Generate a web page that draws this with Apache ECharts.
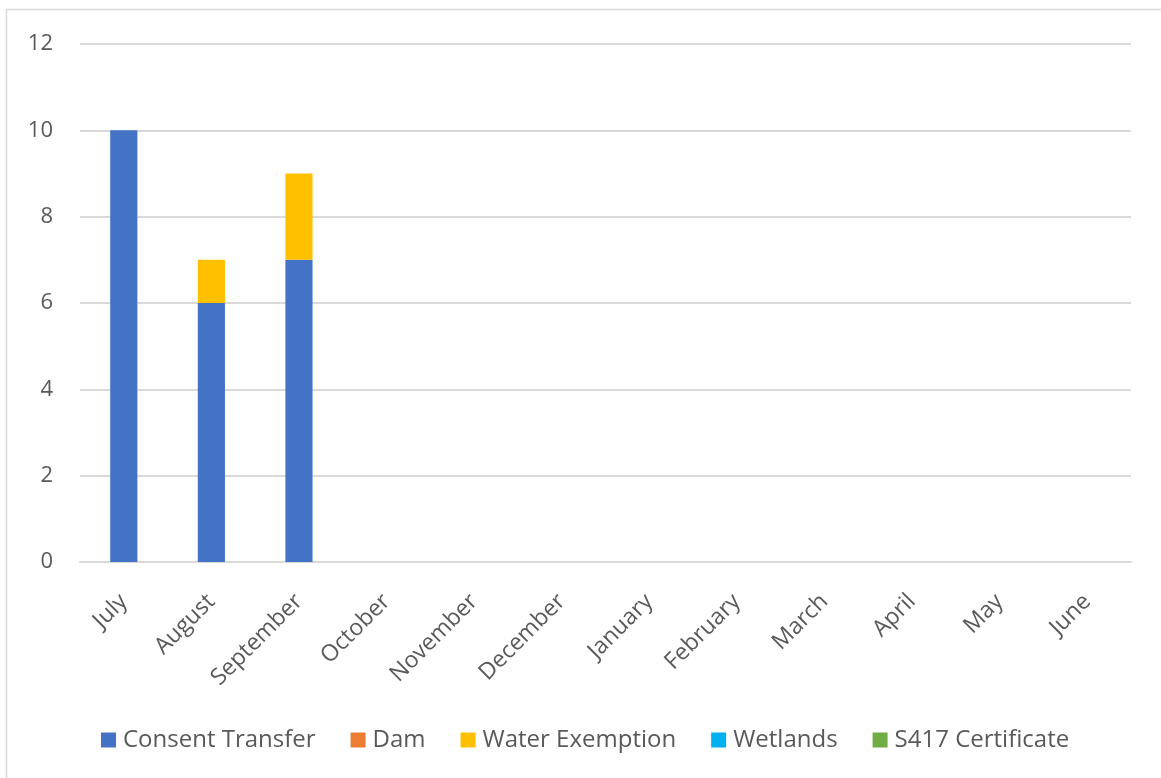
<!DOCTYPE html>
<html>
<head>
<meta charset="utf-8">
<script src="https://cdn.jsdelivr.net/npm/echarts@6/dist/echarts.min.js"></script>
<style>
  html, body { margin: 0; padding: 0; background: #ffffff; }
  #chart { width: 1161px; height: 778px; }
</style>
</head>
<body>
<div id="chart"></div>
<script>
// Monthly application counts by type (financial year July–June)
const months = ['July', 'August', 'September', 'October', 'November', 'December',
  'January', 'February', 'March', 'April', 'May', 'June'];
const consentTransfer = [10, 6, 7, null, null, null, null, null, null, null, null, null];
const dam = [0, 0, 0, null, null, null, null, null, null, null, null, null];
const waterExemption = [0, 1, 2, null, null, null, null, null, null, null, null, null];
const wetlands = [0, 0, 0, null, null, null, null, null, null, null, null, null];
const s417Certificate = [0, 0, 0, null, null, null, null, null, null, null, null, null];
const yTicks = [0, 2, 4, 6, 8, 10, 12];

const FONT = '"Open Sans", "Noto Sans", sans-serif';
const TEXT = '#595959';
const GRID = '#d9d9d9';

const seriesDefs = [
  { name: 'Consent Transfer', data: consentTransfer, color: '#4472C4' },
  { name: 'Dam', data: dam, color: '#ED7D31' },
  { name: 'Water Exemption', data: waterExemption, color: '#FFC000' },
  { name: 'Wetlands', data: wetlands, color: '#00B0F0' },
  { name: 'S417 Certificate', data: s417Certificate, color: '#70AD47' }
];

const chart = echarts.init(document.getElementById('chart'), null, { renderer: 'canvas' });
chart.setOption({
  animation: false,
  backgroundColor: '#ffffff',
  graphic: [{
    type: 'rect',
    shape: { x: 6.5, y: 9.5, width: 1200, height: 800 },
    style: { fill: 'none', stroke: GRID, lineWidth: 1.5 },
    silent: true
  }],
  grid: { left: 80, right: 30, top: 44, bottom: 216, containLabel: false },
  legend: {
    bottom: 21,
    left: 96,
    itemWidth: 15,
    itemHeight: 15,
    itemGap: 35,
    icon: 'rect',
    textStyle: { fontFamily: FONT, fontSize: 24, color: TEXT, padding: [0, 0, 0, 2] },
    data: seriesDefs.map(s => s.name)
  },
  xAxis: {
    type: 'category',
    data: months,
    axisLine: { lineStyle: { color: GRID, width: 2 } },
    axisTick: { show: false },
    axisLabel: {
      rotate: 45,
      interval: 0,
      margin: 36,
      fontFamily: FONT,
      fontSize: 23,
      color: TEXT
    }
  },
  yAxis: {
    type: 'value',
    min: yTicks[0],
    max: yTicks[yTicks.length - 1],
    interval: 2,
    axisLine: { show: false },
    axisTick: { show: false },
    splitLine: { lineStyle: { color: GRID, width: 2 } },
    axisLabel: {
      margin: 27,
      fontFamily: FONT,
      fontSize: 22,
      color: TEXT
    }
  },
  series: seriesDefs.map(s => ({
    name: s.name,
    type: 'bar',
    stack: 'total',
    barWidth: '31%',
    data: s.data,
    itemStyle: { color: s.color }
  }))
});
</script>
</body>
</html>
